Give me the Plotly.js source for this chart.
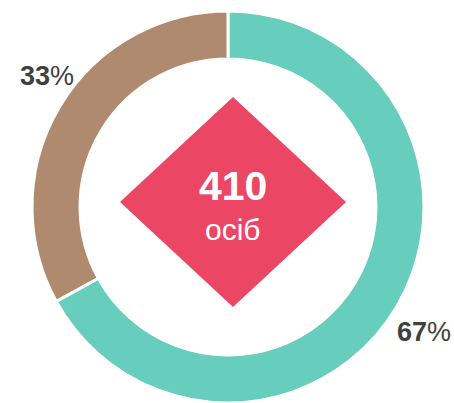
<!DOCTYPE html>
<html><head><meta charset="utf-8">
<script src="https://cdn.plot.ly/plotly-3.0.1.min.js"></script>
<style>html,body{margin:0;padding:0;background:#fff;}#c{width:454px;height:403px;}</style>
</head><body><div id="c"></div>
<script>
const categories = ["Категорія A", "Категорія B"];
const shares = [67, 33];
const totalCount = 410;
const totalUnit = "осіб";
const sliceColors = ["#67CDBC", "#B08A6E"];

const W = 454, H = 403;
const px = x => x / W, py = y => 1 - y / H;
const cx = 228, cy = 207, R = 196;

const trace = {
  type: "pie",
  labels: categories,
  values: shares,
  sort: false,
  direction: "clockwise",
  rotation: 0,
  hole: 0.755,
  textinfo: "none",
  hoverinfo: "label+percent",
  marker: {colors: sliceColors, line: {color: "#ffffff", width: 3}},
  domain: {x: [px(cx - R), px(cx + R)], y: [py(cy + R), py(cy - R)]},
  showlegend: false
};

const dcx = 233, dcy = 202, dw = 113, dh = 105;
const diamond = {
  type: "path", xref: "paper", yref: "paper",
  path: `M ${px(dcx)} ${py(dcy - dh)} L ${px(dcx + dw)} ${py(dcy)} L ${px(dcx)} ${py(dcy + dh)} L ${px(dcx - dw)} ${py(dcy)} Z`,
  fillcolor: "#EB4765", line: {width: 0}
};

const font = "Liberation Sans, Arial, sans-serif";
const base = {xref: "paper", yref: "paper", showarrow: false, xanchor: "center", yanchor: "middle"};
const annotations = [
  Object.assign({x: px(dcx), y: py(186), text: `<b>${totalCount}</b>`,
    font: {family: font, size: 41, color: "#ffffff"}}, base),
  Object.assign({x: px(dcx), y: py(229), text: totalUnit,
    font: {family: font, size: 30, color: "#ffffff"}}, base),
  Object.assign({x: px(47), y: py(76), text: `<b>${shares[1]}</b>%`,
    font: {family: font, size: 27, color: "#404040"}}, base),
  Object.assign({x: px(424), y: py(332), text: `<b>${shares[0]}</b>%`,
    font: {family: font, size: 27, color: "#404040"}}, base)
];

Plotly.newPlot("c", [trace], {
  width: W, height: H,
  margin: {l: 0, r: 0, t: 0, b: 0},
  paper_bgcolor: "#ffffff",
  shapes: [diamond],
  annotations: annotations
}, {displayModeBar: false, staticPlot: true});
</script></body></html>
